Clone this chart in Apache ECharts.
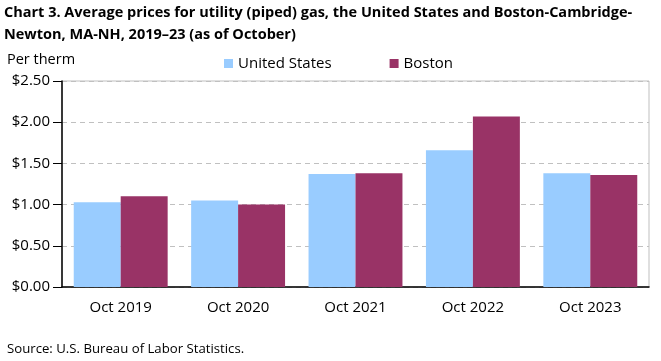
<!DOCTYPE html>
<html><head><meta charset="utf-8">
<script src="https://cdn.jsdelivr.net/npm/echarts@6/dist/echarts.min.js"></script>
<style>html,body{margin:0;padding:0;background:#fff}#c{width:661px;height:361px}</style>
</head><body><div id="c"></div>
<script>
const categories = ["Oct 2019", "Oct 2020", "Oct 2021", "Oct 2022", "Oct 2023"];
const usValues = [1.03, 1.05, 1.37, 1.66, 1.38];
const bostonValues = [1.10, 1.00, 1.38, 2.07, 1.36];
const seriesNames = ["United States", "Boston"];
const titleText = "Chart 3. Average prices for utility (piped) gas, the United States and Boston-Cambridge-\nNewton, MA-NH, 2019–23 (as of October)";
const yAxisTitle = "Per therm";
const sourceText = "Source: U.S. Bureau of Labor Statistics.";

const FONT = "'Open Sans', 'Liberation Sans', sans-serif";
const chart = echarts.init(document.getElementById('c'), null, {renderer: 'canvas'});
chart.setOption({
  animation: false,
  textStyle: {fontFamily: FONT},
  title: [
    {text: titleText, left: 4, top: 2, padding: 0,
     textStyle: {fontFamily: FONT, fontWeight: 'bold', fontSize: 14.5, color: '#000', lineHeight: 22}},
    {text: yAxisTitle, left: 7, top: 52, padding: 0,
     textStyle: {fontFamily: FONT, fontWeight: 'normal', fontSize: 14.5, color: '#000'}},
    {text: sourceText, left: 7, top: 343, padding: 0,
     textStyle: {fontFamily: FONT, fontWeight: 'normal', fontSize: 13.2, color: '#000'}}
  ],
  legend: {
    data: seriesNames, left: 224, top: 56, padding: 0, itemWidth: 9, itemHeight: 9, itemGap: 58,
    icon: 'rect',
    textStyle: {fontFamily: FONT, fontSize: 15, color: '#000'}
  },
  grid: {left: 62, right: 12, top: 81, bottom: 74, show: true, borderColor: '#bfbfbf', borderWidth: 1},
  xAxis: {
    type: 'category', data: categories,
    axisLine: {lineStyle: {color: '#000', width: 1.5}},
    axisTick: {show: false},
    axisLabel: {fontFamily: FONT, fontSize: 15, color: '#000', margin: 13}
  },
  yAxis: {
    type: 'value', min: 0, max: 2.5, interval: 0.5,
    axisLine: {show: true, lineStyle: {color: '#000', width: 1.5}},
    axisTick: {show: true, length: 9, lineStyle: {color: '#000'}},
    splitLine: {show: true, lineStyle: {color: '#c0c0c0', type: [5, 4], width: 1}},
    axisLabel: {fontFamily: FONT, fontSize: 15, color: '#000', margin: 12,
      formatter: v => '$' + v.toFixed(2)}
  },
  series: [
    {name: seriesNames[0], type: 'bar', data: usValues, barGap: '0%', barCategoryGap: '20%',
     itemStyle: {color: '#99ccff'}},
    {name: seriesNames[1], type: 'bar', data: bostonValues,
     itemStyle: {color: '#993366'}}
  ]
});
</script></body></html>
